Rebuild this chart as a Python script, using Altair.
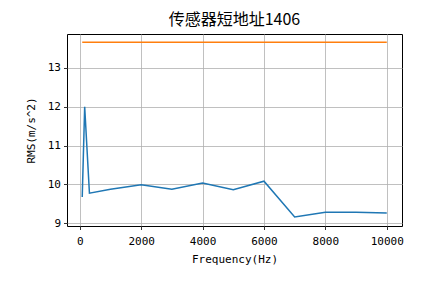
import altair as alt
import pandas as pd

freq = [80, 160, 315, 1000, 2000, 3000, 4000, 5000, 6000, 7000, 8000, 9000, 10000]
rms = [9.67, 12.0, 9.77, 9.87, 9.99, 9.87, 10.03, 9.86, 10.08, 9.16, 9.28, 9.28, 9.26]
limit_x = [80, 10000]
limit_y = [13.66, 13.66]

df = pd.DataFrame(
    {"f": freq + limit_x,
     "v": rms + limit_y,
     "s": ["rms"] * len(freq) + ["limit"] * len(limit_x)}
)

axis_common = dict(
    grid=True, gridColor="#b0b0b0", gridWidth=0.8,
    domain=False, tickColor="black", tickSize=3.5, tickWidth=0.8,
    labelFont="DejaVu Sans Mono", labelFontSize=11, labelColor="black",
    titleFont="DejaVu Sans Mono", titleFontSize=11, titleFontWeight="normal",
    titleColor="black",
)

chart = alt.Chart(df).mark_line(strokeWidth=1.5).encode(
    x=alt.X("f:Q", title="Frequency(Hz)",
            scale=alt.Scale(domain=[-416, 10496], nice=False, zero=False),
            axis=alt.Axis(values=[0, 2000, 4000, 6000, 8000, 10000], format="d",
                          labelPadding=6, titlePadding=7, **axis_common)),
    y=alt.Y("v:Q", title="RMS(m/s^2)",
            scale=alt.Scale(domain=[8.925, 13.875], nice=False, zero=False),
            axis=alt.Axis(values=[9, 10, 11, 12, 13], format="d",
                          labelPadding=3, titlePadding=11, **axis_common)),
    color=alt.Color("s:N", scale=alt.Scale(domain=["rms", "limit"],
                                            range=["#1f77b4", "#ff7f0e"]),
                    legend=None),
).properties(
    width=335, height=192,
    title=alt.TitleParams("传感器短地址1406", font="Noto Sans CJK SC",
                          fontSize=16, fontWeight="normal", color="black",
                          anchor="middle", offset=6),
    autosize=alt.AutoSizeParams(type="none"),
    padding={"left": 67, "top": 34, "right": 43, "bottom": 57},
).configure_view(stroke="black", strokeWidth=1)

chart.save("out.html", embed_options={"renderer": "svg", "actions": False})
